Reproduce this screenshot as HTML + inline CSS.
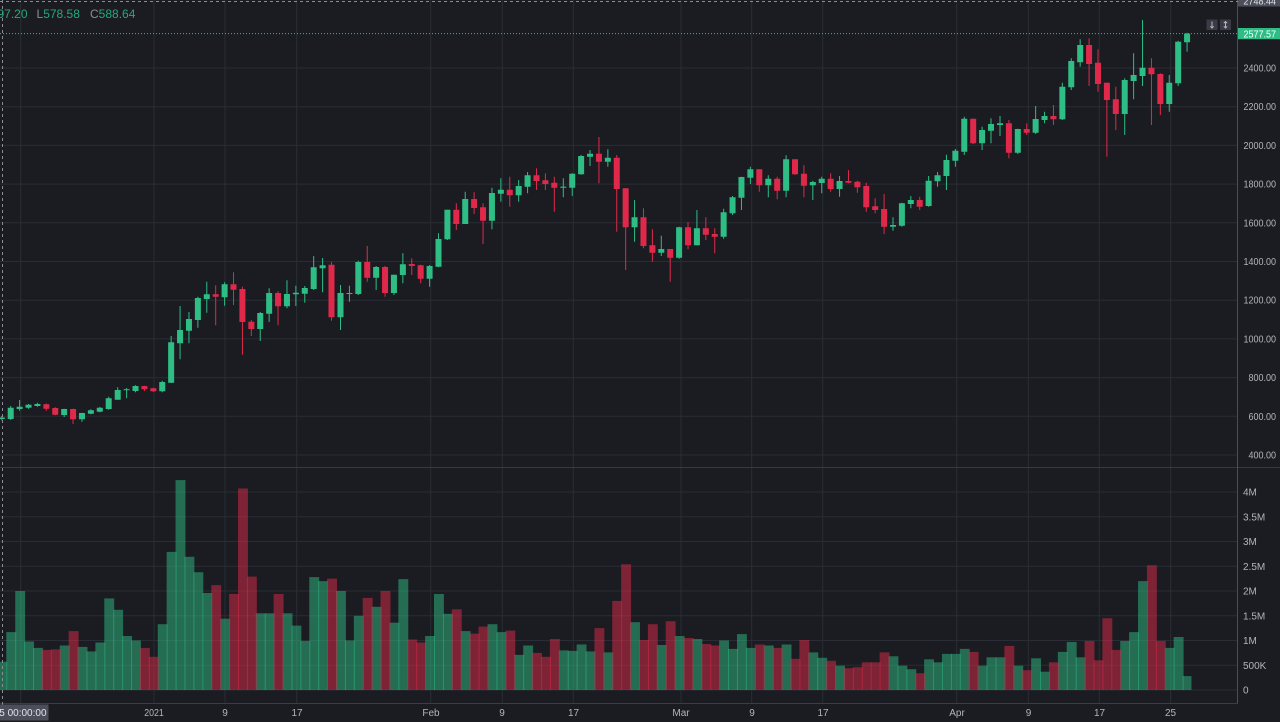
<!DOCTYPE html>
<html><head><meta charset="utf-8"><style>
html,body{margin:0;padding:0;background:#1b1c21;width:1280px;height:722px;overflow:hidden}
svg{display:block}
text{font-family:"Liberation Sans",sans-serif}
.ax{fill:#b2b5be;font-size:10px}
</style></head><body>
<svg width="1280" height="722" viewBox="0 0 1280 722" xmlns="http://www.w3.org/2000/svg">
<rect width="1280" height="722" fill="#1b1c21"/>
<!-- grid -->
<g stroke="#2a2d35" stroke-width="1">
<path d="M0 68H1238M0 106.7H1238M0 145.4H1238M0 184.1H1238M0 222.8H1238M0 261.5H1238M0 300.2H1238M0 338.9H1238M0 377.6H1238M0 416.3H1238M0 455H1238"/>
<path d="M0 492H1238M0 516.75H1238M0 541.5H1238M0 566.25H1238M0 591H1238M0 615.75H1238M0 640.5H1238M0 665.25H1238M0 690H1238"/>
<path d="M20.7 0V703M154 0V703M225 0V703M296.7 0V703M430.7 0V703M502.3 0V703M573.3 0V703M681 0V703M751.7 0V703M822.7 0V703M956.7 0V703M1028.3 0V703M1099.3 0V703M1170.7 0V703"/>
</g>
<!-- volume -->
<g transform="matrix(1.0009 0 0 1 0.2 0)">
<g fill="#2ebd85" fill-opacity="0.5">
<rect x="-2.9" y="661.8" width="9.9" height="28.2"/><rect x="6.1" y="632.1" width="9.9" height="57.9"/><rect x="15" y="591" width="9.9" height="99"/><rect x="23.9" y="641.5" width="9.9" height="48.5"/><rect x="32.8" y="647.9" width="9.9" height="42.1"/><rect x="59.5" y="645.5" width="9.9" height="44.5"/><rect x="77.3" y="646.9" width="9.9" height="43.1"/><rect x="86.2" y="651.4" width="9.9" height="38.6"/><rect x="95.1" y="642.5" width="9.9" height="47.5"/><rect x="104" y="598.4" width="9.9" height="91.6"/><rect x="112.9" y="609.8" width="9.9" height="80.2"/><rect x="121.8" y="636" width="9.9" height="54"/><rect x="130.7" y="640.5" width="9.9" height="49.5"/><rect x="157.4" y="624.2" width="9.9" height="65.8"/><rect x="166.3" y="551.9" width="9.9" height="138.1"/><rect x="175.2" y="480.1" width="9.9" height="209.9"/><rect x="184.1" y="556.8" width="9.9" height="133.2"/><rect x="193" y="572.2" width="9.9" height="117.8"/><rect x="202" y="593" width="9.9" height="97"/><rect x="219.8" y="618.7" width="9.9" height="71.3"/><rect x="255.4" y="613.3" width="9.9" height="76.7"/><rect x="264.3" y="613.3" width="9.9" height="76.7"/><rect x="282.1" y="613.3" width="9.9" height="76.7"/><rect x="291" y="625.6" width="9.9" height="64.4"/><rect x="299.9" y="641" width="9.9" height="49"/><rect x="308.8" y="577.1" width="9.9" height="112.9"/><rect x="317.7" y="581.1" width="9.9" height="108.9"/><rect x="335.5" y="591" width="9.9" height="99"/><rect x="344.4" y="640.5" width="9.9" height="49.5"/><rect x="353.3" y="615.8" width="9.9" height="74.2"/><rect x="371.1" y="606.8" width="9.9" height="83.2"/><rect x="388.9" y="622.7" width="9.9" height="67.3"/><rect x="397.8" y="579.1" width="9.9" height="110.9"/><rect x="424.5" y="636" width="9.9" height="54"/><rect x="433.4" y="594" width="9.9" height="96"/><rect x="442.3" y="613.8" width="9.9" height="76.2"/><rect x="460.1" y="631.1" width="9.9" height="58.9"/><rect x="486.9" y="624.2" width="9.9" height="65.8"/><rect x="495.8" y="632.1" width="9.9" height="57.9"/><rect x="513.6" y="654.9" width="9.9" height="35.1"/><rect x="522.5" y="645.5" width="9.9" height="44.5"/><rect x="558.1" y="650.4" width="9.9" height="39.6"/><rect x="567" y="650.9" width="9.9" height="39.1"/><rect x="575.9" y="644.5" width="9.9" height="45.5"/><rect x="584.8" y="651.4" width="9.9" height="38.6"/><rect x="602.6" y="652.4" width="9.9" height="37.6"/><rect x="629.3" y="622.2" width="9.9" height="67.8"/><rect x="656" y="645" width="9.9" height="45"/><rect x="673.8" y="636" width="9.9" height="54"/><rect x="691.6" y="639" width="9.9" height="51"/><rect x="718.3" y="640.5" width="9.9" height="49.5"/><rect x="727.2" y="648.9" width="9.9" height="41.1"/><rect x="736.1" y="634.1" width="9.9" height="55.9"/><rect x="745" y="647.9" width="9.9" height="42.1"/><rect x="762.9" y="645.5" width="9.9" height="44.5"/><rect x="780.7" y="644.5" width="9.9" height="45.5"/><rect x="807.4" y="652.4" width="9.9" height="37.6"/><rect x="816.3" y="657.8" width="9.9" height="32.2"/><rect x="834.1" y="665.7" width="9.9" height="24.3"/><rect x="887.5" y="656.3" width="9.9" height="33.7"/><rect x="896.4" y="665.7" width="9.9" height="24.3"/><rect x="905.3" y="669.2" width="9.9" height="20.8"/><rect x="923.1" y="659.3" width="9.9" height="30.7"/><rect x="932" y="662.3" width="9.9" height="27.7"/><rect x="940.9" y="653.9" width="9.9" height="36.1"/><rect x="949.8" y="653.9" width="9.9" height="36.1"/><rect x="958.7" y="648.9" width="9.9" height="41.1"/><rect x="976.5" y="665.7" width="9.9" height="24.3"/><rect x="985.4" y="657.3" width="9.9" height="32.7"/><rect x="994.4" y="657.3" width="9.9" height="32.7"/><rect x="1012.2" y="665.7" width="9.9" height="24.3"/><rect x="1030" y="658.3" width="9.9" height="31.7"/><rect x="1038.9" y="671.7" width="9.9" height="18.3"/><rect x="1056.7" y="651.9" width="9.9" height="38.1"/><rect x="1065.6" y="642" width="9.9" height="48"/><rect x="1074.5" y="657.3" width="9.9" height="32.7"/><rect x="1119" y="641" width="9.9" height="49"/><rect x="1127.9" y="632.1" width="9.9" height="57.9"/><rect x="1136.8" y="581.1" width="9.9" height="108.9"/><rect x="1163.5" y="647.9" width="9.9" height="42.1"/><rect x="1172.4" y="637" width="9.9" height="53"/><rect x="1181.3" y="676.1" width="8.9" height="13.9"/>
</g>
<g fill="#e0294a" fill-opacity="0.5">
<rect x="41.7" y="649.9" width="9.9" height="40.1"/><rect x="50.6" y="649.4" width="9.9" height="40.6"/><rect x="68.4" y="631.1" width="9.9" height="58.9"/><rect x="139.6" y="647.9" width="9.9" height="42.1"/><rect x="148.5" y="656.8" width="9.9" height="33.2"/><rect x="210.9" y="585.1" width="9.9" height="104.9"/><rect x="228.7" y="594" width="9.9" height="96"/><rect x="237.6" y="488.5" width="9.9" height="201.5"/><rect x="246.5" y="576.6" width="9.9" height="113.4"/><rect x="273.2" y="594" width="9.9" height="96"/><rect x="326.6" y="578.6" width="9.9" height="111.4"/><rect x="362.2" y="597.9" width="9.9" height="92.1"/><rect x="380" y="591" width="9.9" height="99"/><rect x="406.7" y="639.5" width="9.9" height="50.5"/><rect x="415.6" y="642.5" width="9.9" height="47.5"/><rect x="451.2" y="609.3" width="9.9" height="80.7"/><rect x="469" y="633.6" width="9.9" height="56.4"/><rect x="477.9" y="626.6" width="9.9" height="63.4"/><rect x="504.7" y="630.6" width="9.9" height="59.4"/><rect x="531.4" y="652.9" width="9.9" height="37.1"/><rect x="540.3" y="656.8" width="9.9" height="33.2"/><rect x="549.2" y="639" width="9.9" height="51"/><rect x="593.7" y="628.1" width="9.9" height="61.9"/><rect x="611.5" y="600.9" width="9.9" height="89.1"/><rect x="620.4" y="564.3" width="9.9" height="125.7"/><rect x="638.2" y="640" width="9.9" height="50"/><rect x="647.1" y="624.2" width="9.9" height="65.8"/><rect x="664.9" y="621.2" width="9.9" height="68.8"/><rect x="682.7" y="638" width="9.9" height="52"/><rect x="700.5" y="644" width="9.9" height="46"/><rect x="709.4" y="645.5" width="9.9" height="44.5"/><rect x="753.9" y="644.5" width="9.9" height="45.5"/><rect x="771.8" y="647.9" width="9.9" height="42.1"/><rect x="789.6" y="658.8" width="9.9" height="31.2"/><rect x="798.5" y="640" width="9.9" height="50"/><rect x="825.2" y="660.8" width="9.9" height="29.2"/><rect x="843" y="668.2" width="9.9" height="21.8"/><rect x="851.9" y="667.2" width="9.9" height="22.8"/><rect x="860.8" y="662.3" width="9.9" height="27.7"/><rect x="869.7" y="662.3" width="9.9" height="27.7"/><rect x="878.6" y="652.4" width="9.9" height="37.6"/><rect x="914.2" y="673.2" width="9.9" height="16.8"/><rect x="967.6" y="651.9" width="9.9" height="38.1"/><rect x="1003.3" y="645.9" width="9.9" height="44.1"/><rect x="1021.1" y="670.2" width="9.9" height="19.8"/><rect x="1047.8" y="662.3" width="9.9" height="27.7"/><rect x="1083.4" y="641" width="9.9" height="49"/><rect x="1092.3" y="660.3" width="9.9" height="29.7"/><rect x="1101.2" y="618.2" width="9.9" height="71.8"/><rect x="1110.1" y="649.9" width="9.9" height="40.1"/><rect x="1145.7" y="565.3" width="9.9" height="124.7"/><rect x="1154.6" y="641" width="9.9" height="49"/>
</g>
</g>
<!-- price line -->
<path d="M0 33.6H1238" stroke="#2ebd85" stroke-width="1" stroke-dasharray="1 2"/>
<!-- candles -->
<g transform="matrix(1.0009 0 0 1 0.2 0)">
<path fill="none" stroke="#2ebd85" stroke-width="1" d="M1.6 416V420.4M10.5 406V420M19.4 400V410.7M28.3 404V408.7M37.2 402.7V406.7M63.9 408.7V417M81.7 412.7V421.7M90.6 409.3V414.3M99.5 407V412.3M108.4 396.7V409.7M117.4 387.3V399.7M126.3 388V398.3M135.2 385.3V392.3M161.9 380.7V392.3M170.8 336V383M179.7 306V359.3M188.6 312V343.3M197.5 296.7V327.7M206.4 281.7V312.7M224.2 282.3V305.7M259.8 312V341M268.7 288.3V322M286.5 280.3V308.3M295.4 285.7V306M304.3 286V302.7M313.2 256V290M322.1 258V292.3M340 285V330M348.9 285.7V301.7M357.8 260.7V295M375.6 266V290M393.4 274.7V295M402.3 253.3V283.3M429 265V286.7M437.9 233.3V267.3M446.8 209.7V240M464.6 191.7V224M491.3 187.7V229.3M500.2 178.3V201.7M518 180V201.7M526.9 172V193.3M562.6 178.3V197.3M571.5 173.3V196M580.4 155V174.7M589.3 150V166M607.1 149.3V166.7M633.8 200V241.7M660.5 235.7V256M678.3 226.7V258.7M696.1 210V245.3M722.8 208.7V238.7M731.7 196V215M740.6 176.7V210M749.5 166.7V184M767.4 175.3V197.3M785.2 155.3V197.3M811.9 180.7V200M820.8 176.7V193.3M838.6 176V196.7M892 217.3V230.7M900.9 202.7V226.7M909.8 196V208.3M927.6 176V206.7M936.5 172V186.7M945.4 154.7V190M954.3 149V166.7M963.2 116.7V155M981 126.7V150M989.9 118.3V143.3M998.9 116V136M1016.7 128.7V154M1034.5 106V134M1043.4 111.7V123.3M1061.2 82.7V120M1070.1 58.3V90M1079 39.3V66.7M1123.5 78.3V135M1132.4 53.3V99.3M1141.3 20V86M1168 75V111.7M1176.9 40.7V86M1185.8 32.7V51.7"/>
<path fill="none" stroke="#e0294a" stroke-width="1" d="M46.1 403.5V410.7M55 407.3V415.3M72.8 408.7V424M144.1 385.7V391M153 387.7V392M215.3 285.3V325.3M233.1 272.3V305M242 286.7V354.7M250.9 320V336M277.6 291.3V325.3M331 262V320.7M366.7 246V281.7M384.5 266V296.7M411.2 258.3V275M420.1 264.7V283.3M455.7 203.3V230M473.5 192.3V214M482.4 203.3V244M509.1 176.7V206.7M535.8 168.3V190M544.7 173.3V190M553.6 176.7V211.7M598.2 137V183.3M616 155V231.7M624.9 188V270M642.7 208.3V248.3M651.6 229.3V261.7M669.4 249V281.7M687.2 222V249.3M705 217.3V240M713.9 228.3V253.3M758.4 169.3V191.7M776.3 176.7V199.3M794.1 159.3V175M803 165.3V197.3M829.7 173.3V191.7M847.5 170V183.3M856.4 180.7V192.7M865.3 182.7V211.7M874.2 198.3V213.3M883.1 194V234M918.7 196.7V210M972.1 118.7V144M1007.8 120V158.3M1025.6 123.3V135M1052.3 105V125M1087.9 38.3V86M1096.8 49.3V91.7M1105.7 82.7V156.7M1114.6 86.7V130M1150.2 58.3V125M1159.1 73.3V115"/>
<g transform="translate(-3 0)">
<path fill="#2ebd85" d="M1.6 417.5h6V419h-6zM10.5 407.7h6V419h-6zM19.4 406.7h6V409h-6zM28.3 404.7h6V407.7h-6zM37.2 404h6V406h-6zM63.9 409h6V415h-6zM81.7 413h6V419.3h-6zM90.6 410.3h6V413.7h-6zM99.5 407.7h6V411.7h-6zM108.4 398.3h6V409h-6zM117.4 390h6V399.7h-6zM126.3 389.3h6V390.3h-6zM135.2 386h6V391h-6zM161.9 382h6V391.3h-6zM170.8 342.3h6V382.7h-6zM179.7 330h6V343.3h-6zM188.6 319h6V330.7h-6zM197.5 298h6V320h-6zM206.4 294.3h6V299h-6zM224.2 284.3h6V297.3h-6zM259.8 313h6V329h-6zM268.7 293h6V313.7h-6zM286.5 294h6V306.3h-6zM295.4 292.7h6V294.3h-6zM304.3 288h6V293.7h-6zM313.2 267.3h6V289h-6zM322.1 265.3h6V268.3h-6zM340 293h6V317.3h-6zM348.9 293h6V294h-6zM357.8 262h6V294h-6zM375.6 267h6V277.7h-6zM393.4 274.7h6V293h-6zM402.3 264.3h6V275h-6zM429 266h6V278.7h-6zM437.9 239h6V266.7h-6zM446.8 209.7h6V239.3h-6zM464.6 199h6V224h-6zM491.3 193h6V220.7h-6zM500.2 189.7h6V193.7h-6zM518 186h6V195.3h-6zM526.9 175.3h6V186.7h-6zM562.6 186.6h6V187.8h-6zM571.5 173.7h6V187.7h-6zM580.4 156h6V174.3h-6zM589.3 153.7h6V156.7h-6zM607.1 157.7h6V161.7h-6zM633.8 217.3h6V227.3h-6zM660.5 249h6V252.7h-6zM678.3 227.3h6V257.7h-6zM696.1 228.3h6V245.3h-6zM722.8 212.3h6V236.7h-6zM731.7 197.3h6V213.3h-6zM740.6 177h6V197.7h-6zM749.5 169.3h6V177.7h-6zM767.4 178.7h6V185.3h-6zM785.2 159.3h6V190.7h-6zM811.9 182h6V185.3h-6zM820.8 178.7h6V183h-6zM838.6 181h6V189h-6zM892 225h6V226.7h-6zM900.9 203.3h6V225.7h-6zM909.8 200h6V204h-6zM927.6 180.7h6V206h-6zM936.5 175.3h6V181.3h-6zM945.4 160h6V176h-6zM954.3 150.7h6V160.7h-6zM963.2 118.7h6V151.7h-6zM981 130h6V143.3h-6zM989.9 124h6V130.7h-6zM998.9 123.3h6V125h-6zM1016.7 129h6V152.7h-6zM1034.5 119h6V132.7h-6zM1043.4 116h6V120h-6zM1061.2 86.7h6V119.3h-6zM1070.1 61h6V87.3h-6zM1079 45h6V62.3h-6zM1123.5 80h6V114h-6zM1132.4 75h6V81h-6zM1141.3 67.7h6V76h-6zM1168 82.7h6V104h-6zM1176.9 41.7h6V83.3h-6zM1185.8 33.6h6V42.3h-6z"/>
<path fill="#e0294a" d="M46.1 404.3h6V408.7h-6zM55 408h6V414.7h-6zM72.8 409h6V419.3h-6zM144.1 386h6V389.3h-6zM153 388.3h6V391.3h-6zM215.3 294.3h6V296.7h-6zM233.1 284.3h6V289.7h-6zM242 289h6V322h-6zM250.9 321.7h6V329h-6zM277.6 293h6V306.3h-6zM331 264.7h6V317.3h-6zM366.7 262h6V277.7h-6zM384.5 267h6V293h-6zM411.2 264h6V266h-6zM420.1 265.3h6V278.7h-6zM455.7 209.7h6V224h-6zM473.5 199h6V208h-6zM482.4 207.3h6V220.7h-6zM509.1 189.7h6V195.3h-6zM535.8 175.3h6V181h-6zM544.7 180.3h6V184h-6zM553.6 182.7h6V187.7h-6zM598.2 153.7h6V161.7h-6zM616 157.7h6V189h-6zM624.9 188.3h6V227.3h-6zM642.7 217.3h6V246h-6zM651.6 245.3h6V252.7h-6zM669.4 249h6V257.7h-6zM687.2 227.3h6V245.3h-6zM705 228.3h6V234.7h-6zM713.9 234h6V236.7h-6zM758.4 169.3h6V185.3h-6zM776.3 178.7h6V190.7h-6zM794.1 159.3h6V174.3h-6zM803 173.7h6V185.7h-6zM829.7 178.7h6V189h-6zM847.5 181h6V182.7h-6zM856.4 181.7h6V187.3h-6zM865.3 186h6V207.3h-6zM874.2 206.3h6V210h-6zM883.1 209h6V226.7h-6zM918.7 200h6V206.7h-6zM972.1 118.7h6V143.3h-6zM1007.8 123.3h6V152.7h-6zM1025.6 129h6V132.7h-6zM1052.3 116h6V119.3h-6zM1087.9 45h6V64h-6zM1096.8 62.7h6V84h-6zM1105.7 82.7h6V100h-6zM1114.6 99.3h6V114h-6zM1150.2 67.7h6V74.3h-6zM1159.1 74h6V104h-6z"/>
</g>
</g>
<!-- separators -->
<path d="M0 467.5H1280" stroke="#363943" stroke-width="1"/>
<path d="M1237.5 0V703" stroke="#4a4d57" stroke-width="1"/>
<path d="M0 703.5H1238" stroke="#3a3d46" stroke-width="1"/>
<!-- crosshair -->
<path d="M0 1.5H1238" stroke="#8a8d96" stroke-width="1" stroke-dasharray="3 3"/>
<path d="M2.5 0V705" stroke="#8a8d96" stroke-width="1" stroke-dasharray="3 3"/>
<!-- header -->
<text x="27.5" y="18" font-size="12" text-anchor="end" fill="#27a77a"><tspan fill="#8b8e97">H</tspan>597.20</text>
<text x="36.5" y="18" font-size="12" fill="#8b8e97">L<tspan fill="#27a77a">578.58</tspan></text>
<text x="90" y="18" font-size="12" fill="#8b8e97">C<tspan fill="#27a77a">588.64</tspan></text>
<!-- buttons -->
<rect x="1206.5" y="19.5" width="11" height="10.5" fill="#393c46"/>
<rect x="1220" y="19.5" width="11" height="10.5" fill="#393c46"/>
<path d="M1212 21.5V28M1210.3 26.3L1212 28L1213.7 26.3M1225.5 21.5V28M1223.8 23.2L1225.5 21.5L1227.2 23.2M1223.8 26.3L1225.5 28L1227.2 26.3" stroke="#b2b5be" stroke-width="1" fill="none"/>
<!-- price axis -->
<g class="ax" text-anchor="end">
<text x="1276" y="71.5" textLength="32.5" lengthAdjust="spacingAndGlyphs">2400.00</text>
<text x="1276" y="110.2" textLength="32.5" lengthAdjust="spacingAndGlyphs">2200.00</text>
<text x="1276" y="148.9" textLength="32.5" lengthAdjust="spacingAndGlyphs">2000.00</text>
<text x="1276" y="187.6" textLength="32.5" lengthAdjust="spacingAndGlyphs">1800.00</text>
<text x="1276" y="226.3" textLength="32.5" lengthAdjust="spacingAndGlyphs">1600.00</text>
<text x="1276" y="265" textLength="32.5" lengthAdjust="spacingAndGlyphs">1400.00</text>
<text x="1276" y="303.7" textLength="32.5" lengthAdjust="spacingAndGlyphs">1200.00</text>
<text x="1276" y="342.4" textLength="32.5" lengthAdjust="spacingAndGlyphs">1000.00</text>
<text x="1276" y="381.1" textLength="27.5" lengthAdjust="spacingAndGlyphs">800.00</text>
<text x="1276" y="419.8" textLength="27.5" lengthAdjust="spacingAndGlyphs">600.00</text>
<text x="1276" y="458.5" textLength="27.5" lengthAdjust="spacingAndGlyphs">400.00</text>
</g>
<g class="ax">
<text x="1243" y="495.5">4M</text>
<text x="1243" y="520.3">3.5M</text>
<text x="1243" y="545">3M</text>
<text x="1243" y="569.8">2.5M</text>
<text x="1243" y="594.5">2M</text>
<text x="1243" y="619.3">1.5M</text>
<text x="1243" y="644">1M</text>
<text x="1243" y="668.8">500K</text>
<text x="1243" y="693.5">0</text>
</g>
<!-- last price label -->
<rect x="1238" y="28" width="42" height="11.2" fill="#2ebd85"/>
<text x="1276" y="37.4" font-size="10" text-anchor="end" fill="#ffffff" textLength="32.5" lengthAdjust="spacingAndGlyphs">2577.57</text>
<!-- crosshair price label -->
<rect x="1238" y="-8" width="42" height="14.5" fill="#4c4f59"/>
<text x="1276" y="4.5" font-size="10" text-anchor="end" fill="#e0e3eb" textLength="32.5" lengthAdjust="spacingAndGlyphs">2748.44</text>
<!-- time axis -->
<g class="ax" text-anchor="middle">
<text x="154" y="716" textLength="19.5" lengthAdjust="spacingAndGlyphs">2021</text>
<text x="225" y="716">9</text>
<text x="297" y="716">17</text>
<text x="431" y="716">Feb</text>
<text x="502" y="716">9</text>
<text x="573.5" y="716">17</text>
<text x="681" y="716">Mar</text>
<text x="752" y="716">9</text>
<text x="823" y="716">17</text>
<text x="957" y="716">Apr</text>
<text x="1028.5" y="716">9</text>
<text x="1099.5" y="716">17</text>
<text x="1170.5" y="716">25</text>
</g>
<!-- crosshair time label -->
<rect x="-10" y="704.5" width="58.5" height="16" fill="#4c4f59"/>
<text x="46.5" y="716" font-size="10" text-anchor="end" fill="#e0e3eb">15 00:00:00</text>
</svg>
</body></html>
